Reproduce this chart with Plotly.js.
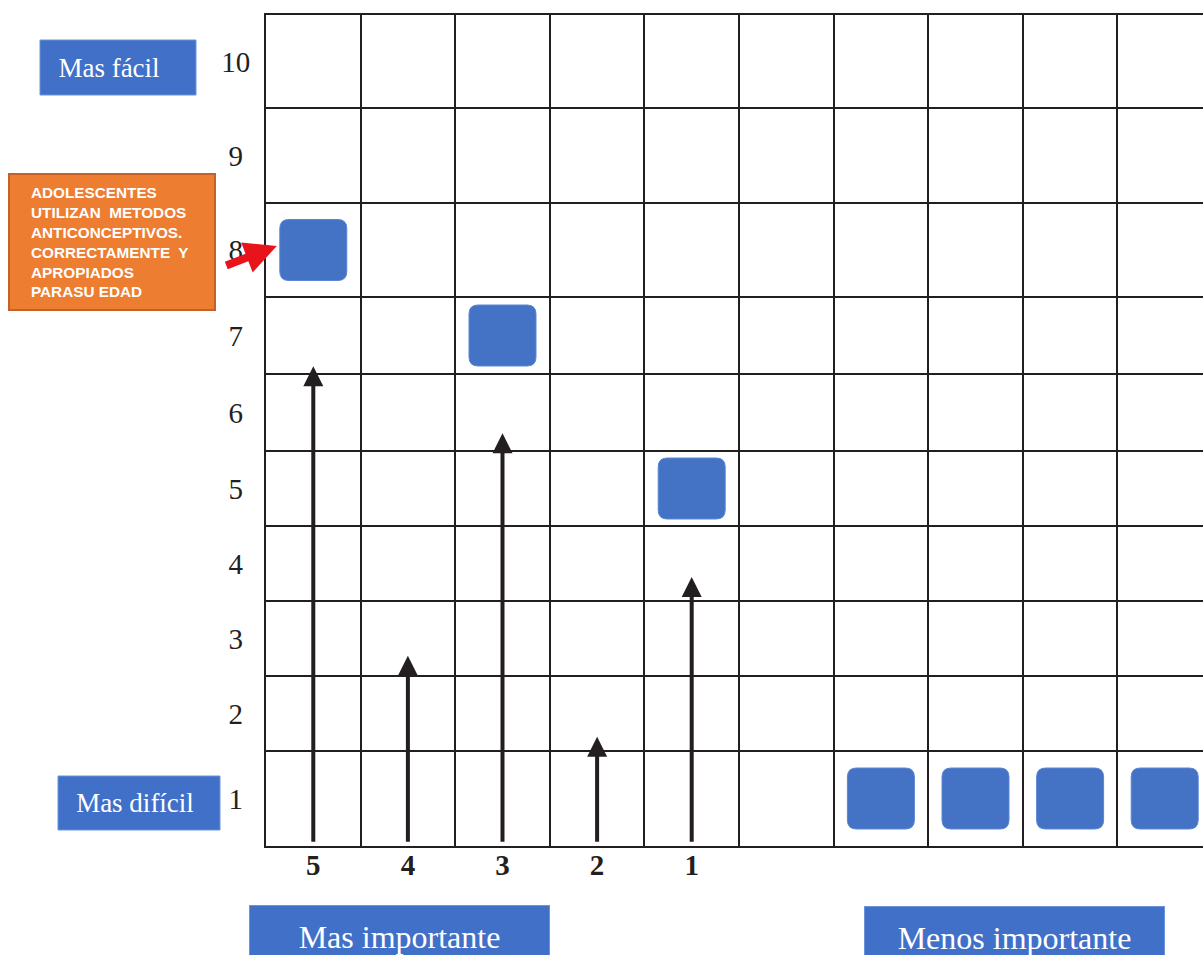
<!DOCTYPE html>
<html>
<head>
<meta charset="utf-8">
<script src="https://cdn.plot.ly/plotly-3.0.1.min.js"></script>
<style>html,body{margin:0;padding:0;background:#fff;}#chart{width:1203px;height:955px;}</style>
</head>
<body>
<div id="chart"></div>
<script>
// ---------------- data ----------------
const rowLabels = ['1','2','3','4','5','6','7','8','9','10'];
const colLabels = ['5','4','3','2','1'];              // labels under columns 1..5
const boxColumns = [1, 3, 5, 7, 8, 9, 10];            // column of each blue square
const boxRows    = [8, 7, 5, 1, 1, 1, 1];             // row of each blue square
const arrowColumns = [1, 2, 3, 4, 5];
const arrowTops    = [6.6, 2.77, 5.73, 1.69, 3.82];   // arrow tip (row scale)
const arrowBase    = 0.53;
const noteText = ['ADOLESCENTES','UTILIZAN&nbsp; METODOS','ANTICONCEPTIVOS.','CORRECTAMENTE&nbsp; Y','APROPIADOS','PARASU EDAD'];
const labelEasy = 'Mas fácil';
const labelHard = 'Mas difícil';
const labelImp  = 'Mas importante';
const labelLess = 'Menos importante';

// ---------------- layout constants ----------------
const W = 1203, H = 955;
const M = {l: 266, r: 0, t: 15, b: 109};
const plotW = W - M.l - M.r, plotH = H - M.t - M.b;
const colPx = 94.6;                                    // px per column
const rowPx = [95, 75, 75, 75, 75, 77, 77, 94, 95, 93]; // row heights, bottom→top
const rowEdges = [0];
rowPx.forEach(h => rowEdges.push(rowEdges[rowEdges.length - 1] + h));
const ink = '#231f20';
const blue = '#4472C4';
const serif = 'Liberation Serif, Times New Roman, serif';
const sans = 'Liberation Sans, Arial, sans-serif';

// row value -> y-axis units (piecewise linear scale over unequal rows)
function rowY(v) {
  let k = Math.min(Math.max(Math.round(v), 1), rowPx.length);
  return rowEdges[k - 1] + (v - (k - 0.5)) * rowPx[k - 1];
}
const colX = c => c - 0.5;                             // column centre
const px2x = p => p / colPx;                            // px -> x units

const px2paperX = p => (p - M.l) / plotW;
const px2paperY = p => (H - M.b - p) / plotH;

// ---------------- shapes ----------------
const shapes = [];
// orange note box
shapes.push({type: 'rect', xref: 'paper', yref: 'paper',
  x0: px2paperX(9), x1: px2paperX(215), y0: px2paperY(310), y1: px2paperY(174),
  fillcolor: '#ED7D31', line: {color: '#c0622a', width: 2}, layer: 'above'});
// rounded blue squares
const bw = 67, bh = 61, br = 9;
boxColumns.forEach((c, i) => {
  const cx = colX(c), cy = rowY(boxRows[i]);
  const x0 = cx - px2x(bw / 2), x1 = cx + px2x(bw / 2);
  const y0 = cy - bh / 2, y1 = cy + bh / 2;
  const rx = px2x(br), ry = br;
  const path = `M${x0 + rx},${y0} L${x1 - rx},${y0} Q${x1},${y0} ${x1},${y0 + ry} L${x1},${y1 - ry} Q${x1},${y1} ${x1 - rx},${y1} L${x0 + rx},${y1} Q${x0},${y1} ${x0},${y1 - ry} L${x0},${y0 + ry} Q${x0},${y0} ${x0 + rx},${y0} Z`;
  shapes.push({type: 'path', xref: 'x', yref: 'y', path: path, fillcolor: blue,
               line: {color: '#5a86d2', width: 1}, layer: 'above'});
});

// ---------------- annotations ----------------
const annotations = [];
// black arrows
arrowColumns.forEach((c, i) => {
  annotations.push({
    x: colX(c), y: rowY(arrowTops[i]), xref: 'x', yref: 'y',
    ax: colX(c), ay: rowY(arrowBase), axref: 'x', ayref: 'y',
    text: '', showarrow: true, arrowhead: 2, arrowsize: 1.0, arrowwidth: 4,
    arrowcolor: ink, font: {size: 1}
  });
});
// red arrow towards first square
annotations.push({
  x: colX(boxColumns[0]) - px2x(bw / 2 + 3), y: rowY(boxRows[0]) + 4, xref: 'x', yref: 'y',
  ax: -52, ay: 20, text: '', showarrow: true, arrowhead: 2, arrowsize: 0.8,
  arrowwidth: 8, arrowcolor: '#e8141b', font: {size: 1}
});
// orange note text
annotations.push({
  xref: 'paper', yref: 'paper', x: px2paperX(29), y: px2paperY(182),
  xanchor: 'left', yanchor: 'top', align: 'left', showarrow: false,
  text: noteText.map(t => '<b>' + t + '</b>').join('<br>'),
  font: {family: sans, size: 15.3, color: '#ffffff'}
});
// blue label boxes
function blueLabel(text, left, top, w, h, size, xshift) {
  annotations.push({
    xref: 'paper', yref: 'paper', x: px2paperX(left), y: px2paperY(top),
    xanchor: 'left', yanchor: 'top', showarrow: false, text: text,
    font: {family: serif, size: size, color: '#ffffff'},
    bgcolor: '#4170C8', bordercolor: '#6b93d8', borderwidth: 1, borderpad: 0,
    width: w, height: h, align: 'center', valign: 'middle'
  });
  if (xshift) {
    const a = annotations[annotations.length - 1];
    a.bgcolor = 'rgba(0,0,0,0)'; a.borderwidth = 0;
    shapes.push({type: 'rect', xref: 'paper', yref: 'paper',
      x0: px2paperX(left), x1: px2paperX(left + w), y0: px2paperY(top + h), y1: px2paperY(top),
      fillcolor: '#4170C8', line: {color: '#6b93d8', width: 1}, layer: 'above'});
    a.xshift = xshift;
  }
}
blueLabel(labelEasy, 40, 40, 156, 55, 27, -9);
blueLabel(labelHard, 58, 776, 162, 54, 27, -4);
blueLabel(labelImp, 249, 905, 299, 62, 32, 0);
blueLabel(labelLess, 864, 906, 299, 62, 32, 0);

// ---------------- traces ----------------
const traces = [{
  type: 'scatter', mode: 'markers',
  x: boxColumns.map(colX), y: boxRows.map(rowY),
  marker: {size: 1, color: 'rgba(0,0,0,0)'}, hoverinfo: 'skip', showlegend: false
}];

const ySingle = t => (t.length === 1 ? t + '\u2005' : t);

const layout = {
  width: W, height: H, margin: M,
  paper_bgcolor: '#ffffff', plot_bgcolor: '#ffffff', showlegend: false,
  xaxis: {
    range: [0, plotW / colPx], fixedrange: true, zeroline: false,
    tickmode: 'array', tickvals: colLabels.map((_, i) => colX(i + 1)), ticktext: colLabels,
    ticks: '', showgrid: false, ticklabelstandoff: -8,
    tickfont: {family: serif, size: 29, color: ink, weight: 'bold'},
    showline: true, mirror: true, linecolor: ink, linewidth: 2,
    minor: {tickmode: 'array', tickvals: [...Array(11).keys()], showgrid: true,
            gridcolor: ink, gridwidth: 2, ticks: ''}
  },
  yaxis: {
    range: [0, rowEdges[rowEdges.length - 1]], fixedrange: true, zeroline: false,
    tickmode: 'array', tickvals: rowLabels.map((_, i) => rowY(i + 1)),
    ticktext: rowLabels.map(ySingle), ticks: '', showgrid: false, ticklabelstandoff: 8,
    tickfont: {family: serif, size: 29, color: ink},
    showline: true, mirror: false, linecolor: ink, linewidth: 2,
    minor: {tickmode: 'array', tickvals: rowEdges, showgrid: true,
            gridcolor: ink, gridwidth: 2, ticks: ''}
  },
  shapes: shapes, annotations: annotations
};

Plotly.newPlot('chart', traces, layout, {displayModeBar: false, staticPlot: true});
</script>
</body>
</html>
